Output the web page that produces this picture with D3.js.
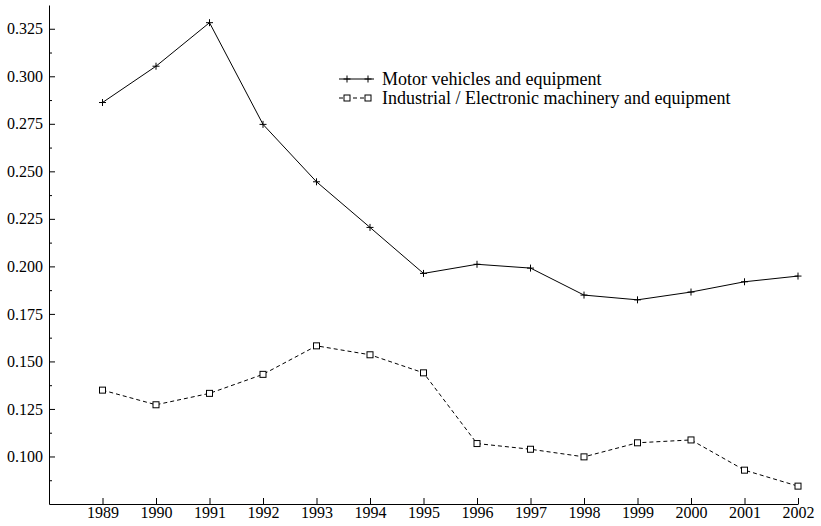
<!DOCTYPE html>
<html>
<head>
<meta charset="utf-8">
<script src="https://cdn.jsdelivr.net/npm/d3@7"></script>
<style>
  html, body { margin: 0; padding: 0; background: #fff; }
  svg { display: block; }
  text { font-family: "Liberation Serif", "Times New Roman", serif; fill: #000; }
</style>
</head>
<body>
<svg id="chart" width="821" height="526"></svg>
<script>
const years = [1989, 1990, 1991, 1992, 1993, 1994, 1995, 1996, 1997, 1998, 1999, 2000, 2001, 2002];
const motorVehicles = [0.2862, 0.3053, 0.3282, 0.2747, 0.2445, 0.2205, 0.1963, 0.2011, 0.1991, 0.1849, 0.1824, 0.1865, 0.1919, 0.1949];
const industrialMachinery = [0.1349, 0.1272, 0.1332, 0.1432, 0.1582, 0.1535, 0.1440, 0.1068, 0.1038, 0.0998, 0.1072, 0.1087, 0.0928, 0.0844];
const yMajorTicks = [0.100, 0.125, 0.150, 0.175, 0.200, 0.225, 0.250, 0.275, 0.300, 0.325];
const yMinorTicks = [0.0875, 0.1125, 0.1375, 0.1625, 0.1875, 0.2125, 0.2375, 0.2625, 0.2875, 0.3125];
const seriesNames = ["Motor vehicles and equipment", "Industrial / Electronic machinery and equipment"];

const svg = d3.select("#chart");
const x = d3.scaleLinear().domain([1988, 2002]).range([49, 798]);
const y = d3.scaleLinear().domain([0.075, 0.3375]).range([504, 5]);

// Y axis: labelled major ticks plus short unlabelled minor ticks, all pointing inward
svg.append("g").attr("transform", `translate(${x.range()[0]},0)`)
  .call(d3.axisLeft(y).tickValues(yMajorTicks).tickFormat(d3.format(".3f"))
    .tickSizeInner(-6).tickSizeOuter(0).tickPadding(6));
svg.append("g").attr("transform", `translate(${x.range()[0]},0)`)
  .call(d3.axisLeft(y).tickValues(yMinorTicks).tickFormat("")
    .tickSizeInner(-3).tickSizeOuter(0))
  .select(".domain").remove();

// X axis with year labels
svg.append("g").attr("transform", `translate(0,${y.range()[0]})`)
  .call(d3.axisBottom(x).tickValues(years).tickFormat(d3.format("d"))
    .tickSizeInner(-6).tickSizeOuter(0).tickPadding(3));

svg.selectAll(".domain").attr("stroke", "#000").attr("stroke-width", 1);
svg.selectAll(".tick line").attr("stroke", "#000");
svg.selectAll(".tick text").attr("font-size", 16).attr("font-family", "Liberation Serif");

const line = d3.line().x((d, i) => x(years[i])).y(d => y(d));

// Motor vehicles: solid line with plus markers
svg.append("path").datum(motorVehicles)
  .attr("d", line).attr("fill", "none").attr("stroke", "#000").attr("stroke-width", 1);
const plus = (g, cx, cy) => {
  g.append("path")
    .attr("d", `M${cx - 3.5},${cy}H${cx + 3.5}M${cx},${cy - 3.5}V${cy + 3.5}`)
    .attr("stroke", "#000").attr("stroke-width", 1).attr("fill", "none");
};
const plusLayer = svg.append("g");
motorVehicles.forEach((v, i) => plus(plusLayer, x(years[i]), y(v)));

// Industrial machinery: dashed line with square markers
svg.append("path").datum(industrialMachinery)
  .attr("d", line).attr("fill", "none").attr("stroke", "#000").attr("stroke-width", 1)
  .attr("stroke-dasharray", "4,3");
const square = (g, cx, cy) => {
  g.append("rect").attr("x", cx - 3).attr("y", cy - 3).attr("width", 6).attr("height", 6)
    .attr("fill", "#fff").attr("stroke", "#000").attr("stroke-width", 1);
};
const squareLayer = svg.append("g");
industrialMachinery.forEach((v, i) => square(squareLayer, x(years[i]), y(v)));

// Legend
const legend = svg.append("g");
const legendRows = [79, 98];
const sampleX0 = 339, sampleX1 = 374, markerXs = [347, 368];
legend.append("line").attr("x1", sampleX0).attr("x2", sampleX1)
  .attr("y1", legendRows[0]).attr("y2", legendRows[0]).attr("stroke", "#000");
markerXs.forEach(mx => plus(legend, mx, legendRows[0]));
legend.append("line").attr("x1", sampleX0).attr("x2", sampleX1)
  .attr("y1", legendRows[1]).attr("y2", legendRows[1]).attr("stroke", "#000")
  .attr("stroke-dasharray", "4,3");
markerXs.forEach(mx => square(legend, mx, legendRows[1]));
seriesNames.forEach((name, i) => {
  legend.append("text").attr("x", 382).attr("y", legendRows[i] + 6)
    .attr("font-size", 18).text(name);
});
</script>
</body>
</html>
